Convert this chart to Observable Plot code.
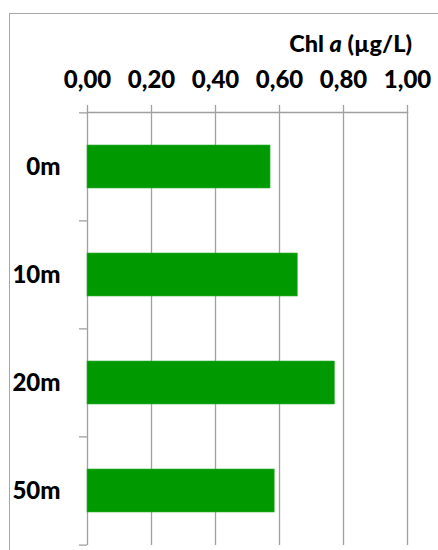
<!DOCTYPE html>
<html>
<head>
<meta charset="utf-8">
<script src="https://cdn.jsdelivr.net/npm/d3@7"></script>
<script src="https://cdn.jsdelivr.net/npm/@observablehq/plot@0.6"></script>
<style>
  html, body { margin: 0; padding: 0; background: #fff; overflow: hidden; }
  #wrap { position: relative; width: 438px; height: 550px; overflow: hidden; }
  #border { position: absolute; left: 9px; top: 13px; width: 600px; height: 700px; border: 1px solid #a6a6a6; box-sizing: border-box; }
  #title { position: absolute; right: 26px; top: 28px; font-family: Lato, sans-serif; font-weight: 900; font-size: 23.5px; line-height: 30px; color: #000; white-space: nowrap; }
  #chart { position: absolute; left: 0; top: 0; }
</style>
</head>
<body>
<div id="wrap">
  <div id="border"></div>
  <div id="title">Chl <i>a</i> (µg/L)</div>
  <div id="chart"></div>
</div>
<script>
const categories = ["0m", "10m", "20m", "50m"];
const values = [0.572, 0.657, 0.773, 0.585];
const xTicks = [0, 0.2, 0.4, 0.6, 0.8, 1.0];

const W = 438, H = 550, mTop = 112, mBottom = 5, mLeft = 87, mRight = 31;
const padInner = 0.6, padOuter = 0.3;
const step = (H - mTop - mBottom) / (categories.length - padInner + 2 * padOuter);
const fmt = d => d.toFixed(2).replace(".", ",");
const gray = "#a0a0a0";

const chart = Plot.plot({
  width: W, height: H,
  marginTop: mTop, marginBottom: mBottom, marginLeft: mLeft, marginRight: mRight,
  style: { fontFamily: "Lato, sans-serif", fontWeight: "900", fontSize: "24px", color: "#000", background: "transparent" },
  x: { domain: [0, 1], axis: null },
  y: { domain: categories, paddingInner: padInner, paddingOuter: padOuter, axis: null },
  marks: [
    Plot.ruleX(xTicks, { stroke: gray, strokeWidth: 1.3, strokeOpacity: 1 }),
    Plot.frame({ anchor: "top", stroke: gray, strokeWidth: 1.3, strokeOpacity: 1 }),
    Plot.axisX({ anchor: "top", ticks: xTicks, tickSize: 8, tickPadding: 17, tickFormat: fmt, stroke: gray, strokeWidth: 1.3, strokeOpacity: 1, fontSize: 24, fill: "#000" }),
    Plot.axisY({ anchor: "left", tickSize: 8, tickFormat: null, text: null, dy: -step / 2, stroke: gray, strokeWidth: 1.3, strokeOpacity: 1 }),
    Plot.axisY({ anchor: "left", ticks: [categories[categories.length - 1]], tickSize: 8, text: null, dy: step / 2, stroke: gray, strokeWidth: 1.3, strokeOpacity: 1 }),
    Plot.axisY({ anchor: "left", tickSize: 0, tickPadding: 27, fontSize: 24, fill: "#000" }),
    Plot.barX(categories, { y: d => d, x: (d, i) => values[i], fill: "#009900", stroke: "#33b033", strokeWidth: 0.6 })
  ]
});
document.getElementById("chart").appendChild(chart);
</script>
</body>
</html>
